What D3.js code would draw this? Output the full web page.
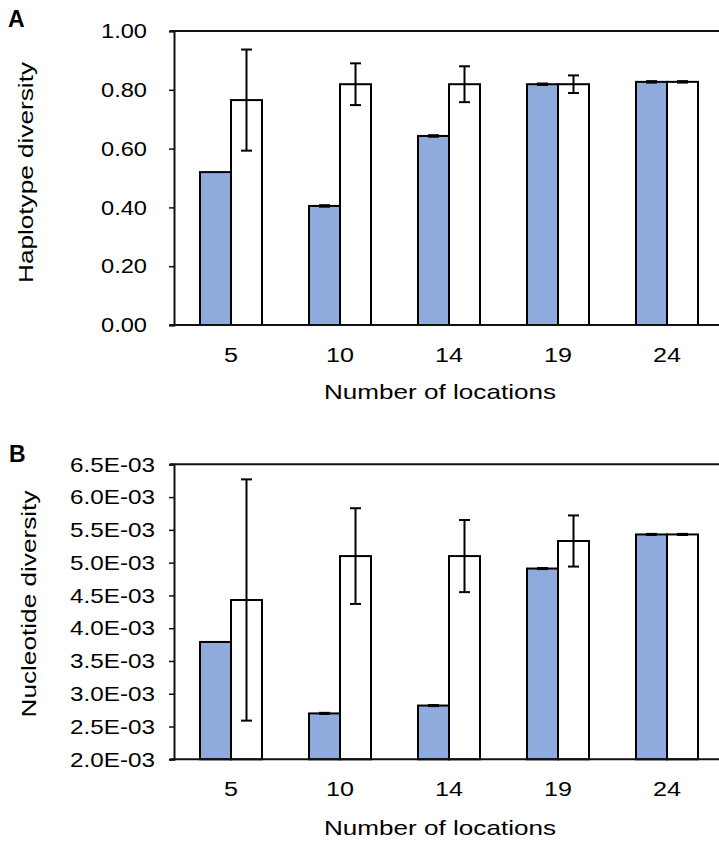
<!DOCTYPE html>
<html>
<head>
<meta charset="utf-8">
<script src="https://cdn.jsdelivr.net/npm/d3@7"></script>
<style>
  html, body { margin: 0; padding: 0; background: #fff; }
  svg { display: block; }
  text { font-family: "Liberation Sans", Arial, sans-serif; fill: #000; }
</style>
</head>
<body>
<svg id="chart" width="719" height="843"></svg>
<script>
// Number of sampled locations (x categories)
const locations = ["5", "10", "14", "19", "24"];

// Panel A: haplotype diversity
const hapObserved = [0.520, 0.405, 0.643, 0.819, 0.827];
const hapObservedErr = [null, 0, 0, 0, 0];
const hapMean = [0.765, 0.819, 0.819, 0.819, 0.827];
const hapMeanErr = [0.172, 0.071, 0.061, 0.030, 0];
const hapTicks = [0, 0.2, 0.4, 0.6, 0.8, 1.0];

// Panel B: nucleotide diversity
const nucObserved = [0.00379, 0.00270, 0.00282, 0.00491, 0.00543];
const nucObservedErr = [null, 0, 0, 0, 0];
const nucMean = [0.00443, 0.00510, 0.00510, 0.00533, 0.00543];
const nucMeanErr = [0.00184, 0.00073, 0.00055, 0.00039, 0];
const nucTicks = [0.0020, 0.0025, 0.0030, 0.0035, 0.0040, 0.0045, 0.0050, 0.0055, 0.0060, 0.0065];

const svg = d3.select("#chart");
const BLUE = "#8faadc";
const FONT = "Liberation Sans, Arial, sans-serif";
const FS = 21;

// Widen tick labels horizontally so the widest one spans `target` px,
// keeping each label's anchor at xPos.
function widen(sel, target, xPos) {
  sel.attr("font-size", FS).attr("font-family", FONT).attr("fill", "#000");
  let maxW = 0;
  sel.each(function () { maxW = Math.max(maxW, this.getComputedTextLength()); });
  const sx = target / maxW;
  sel.attr("x", xPos / sx).attr("transform", `scale(${sx},1)`);
}

function drawPanel(cfg) {
  const g = svg.append("g");
  const x = d3.scaleBand().domain(locations).range([176.5, 721.5]).paddingInner(0);
  const y = d3.scaleLinear().domain(cfg.domain).range([cfg.bottom, cfg.top]);
  const barW = 31;

  // frame: top border
  g.append("line").attr("x1", 170).attr("x2", 719).attr("y1", cfg.top).attr("y2", cfg.top)
    .attr("stroke", "#111").attr("stroke-width", 2);

  // y axis
  const yAxis = d3.axisLeft(y).tickValues(cfg.ticks).tickSize(5).tickPadding(cfg.tickPad)
    .tickFormat(cfg.fmt);
  const ya = g.append("g").attr("transform", `translate(174,0)`).call(yAxis);
  ya.select(".domain").attr("stroke", "#111").attr("stroke-width", 2);
  ya.selectAll(".tick line").attr("stroke", "#111").attr("stroke-width", 1.5);
  widen(ya.selectAll(".tick text"), cfg.yTickW, -(5 + cfg.tickPad));

  // bars
  const rows = locations.map((c, i) => ({
    c, obs: cfg.obs[i], obsErr: cfg.obsErr[i], mean: cfg.mean[i], meanErr: cfg.meanErr[i]
  }));
  const base = y(cfg.domain[0]);
  g.selectAll(".obs").data(rows).join("rect")
    .attr("x", d => x(d.c) + x.bandwidth() / 2 - barW)
    .attr("y", d => y(d.obs))
    .attr("width", barW)
    .attr("height", d => base - y(d.obs))
    .attr("fill", BLUE).attr("stroke", "#000").attr("stroke-width", 2);
  g.selectAll(".mean").data(rows).join("rect")
    .attr("x", d => x(d.c) + x.bandwidth() / 2)
    .attr("y", d => y(d.mean))
    .attr("width", barW)
    .attr("height", d => base - y(d.mean))
    .attr("fill", "#fff").attr("stroke", "#000").attr("stroke-width", 2);

  // error bars
  const errs = [];
  rows.forEach(d => {
    const cx = x(d.c) + x.bandwidth() / 2;
    if (d.obsErr !== null) errs.push({ cx: cx - barW / 2, v: d.obs, e: d.obsErr });
    if (d.meanErr !== null) errs.push({ cx: cx + barW / 2, v: d.mean, e: d.meanErr });
  });
  const eg = g.selectAll(".err").data(errs).join("g").attr("stroke", "#000").attr("stroke-width", 2);
  eg.append("line").attr("x1", d => d.cx).attr("x2", d => d.cx)
    .attr("y1", d => y(d.v + d.e)).attr("y2", d => y(d.v - d.e));
  eg.append("line").attr("x1", d => d.cx - 5.5).attr("x2", d => d.cx + 5.5)
    .attr("y1", d => y(d.v + d.e)).attr("y2", d => y(d.v + d.e))
    .attr("stroke-width", d => d.e === 0 ? 3 : 2);
  eg.append("line").attr("x1", d => d.cx - 5.5).attr("x2", d => d.cx + 5.5)
    .attr("y1", d => y(d.v - d.e)).attr("y2", d => y(d.v - d.e))
    .attr("stroke-width", d => d.e === 0 ? 3 : 2);

  // bottom axis line
  g.append("line").attr("x1", 170).attr("x2", 719).attr("y1", base).attr("y2", base)
    .attr("stroke", "#111").attr("stroke-width", 2);

  // x axis labels
  const xa = g.append("g").attr("transform", `translate(0,${base})`)
    .call(d3.axisBottom(x).tickSize(0).tickPadding(cfg.xPad));
  xa.select(".domain").remove();
  widen(xa.selectAll(".tick text"), 28, 0);

  // axis titles
  g.append("text").attr("x", 440).attr("y", cfg.xTitleY).attr("text-anchor", "middle")
    .attr("font-size", FS).attr("textLength", 232).attr("lengthAdjust", "spacingAndGlyphs")
    .text("Number of locations");
  g.append("text").attr("transform", `translate(${cfg.yTitleX},${cfg.yTitleCY}) rotate(-90)`)
    .attr("text-anchor", "middle").attr("font-size", FS)
    .attr("textLength", cfg.yTitleLen).attr("lengthAdjust", "spacingAndGlyphs")
    .text(cfg.yTitle);

  // panel letter
  g.append("text").attr("x", cfg.letterX).attr("y", cfg.letterY)
    .attr("font-size", 23).attr("font-weight", "bold").text(cfg.letter);
}

drawPanel({
  letter: "A", letterX: 8, letterY: 27,
  domain: [0, 1], top: 31, bottom: 325, ticks: hapTicks, fmt: d3.format(".2f"),
  tickPad: 22, yTickW: 46,
  obs: hapObserved, obsErr: hapObservedErr, mean: hapMean, meanErr: hapMeanErr,
  xPad: 22, xTitleY: 399,
  yTitle: "Haplotype diversity", yTitleX: 33, yTitleCY: 172.5, yTitleLen: 221
});

drawPanel({
  letter: "B", letterX: 9, letterY: 462,
  domain: [0.002, 0.0065], top: 464.3, bottom: 759.3, ticks: nucTicks,
  fmt: d => (d * 1000).toFixed(1) + "E-03", tickPad: 14, yTickW: 85,
  obs: nucObserved, obsErr: nucObservedErr, mean: nucMean, meanErr: nucMeanErr,
  xPad: 22, xTitleY: 835,
  yTitle: "Nucleotide diversity", yTitleX: 36, yTitleCY: 604, yTitleLen: 227
});
</script>
</body>
</html>
